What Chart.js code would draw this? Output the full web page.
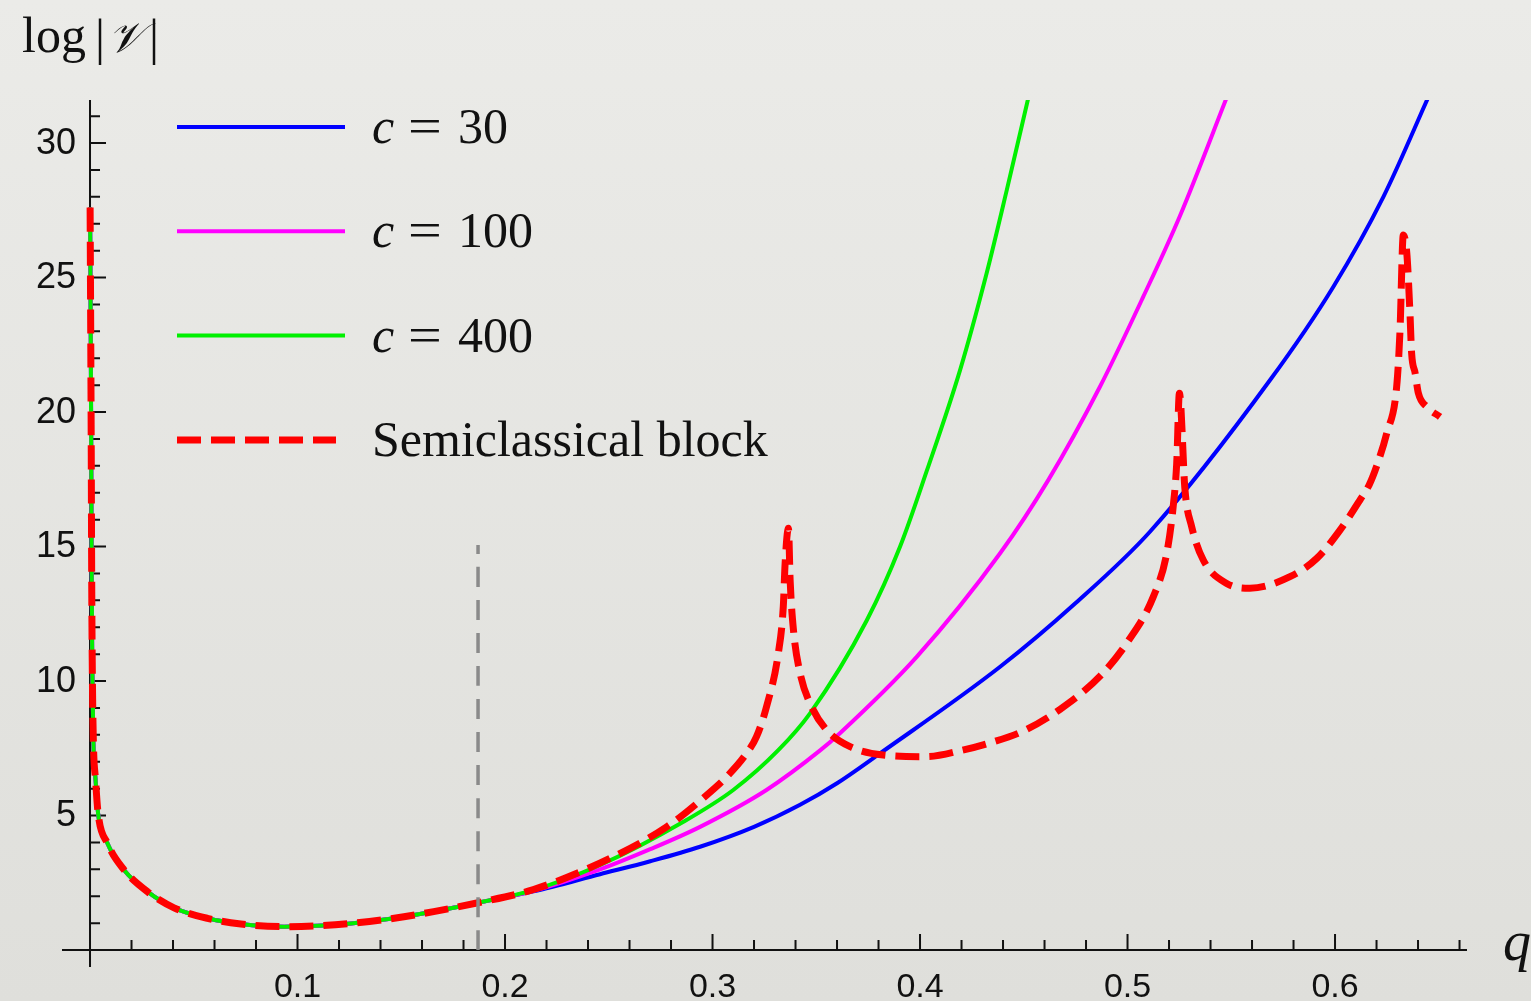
<!DOCTYPE html>
<html>
<head>
<meta charset="utf-8">
<script src="https://cdn.jsdelivr.net/npm/chart.js@4.4.0/dist/chart.umd.min.js"></script>
<style>
body { margin: 0; background: #e4e4e0; }
#wrap { width: 1531px; height: 1001px; }
</style>
</head>
<body>
<div id="wrap"><canvas id="myChart" width="1531" height="1001"></canvas></div>
<script>
// debut commun des 4 courbes (q -> log|V|)
var startQ = [0.00005, 0.0004, 0.0006, 0.0008, 0.0011, 0.0016, 0.0027, 0.0039, 0.0084, 0.0164, 0.0277, 0.0405, 0.0566, 0.0727, 0.0936, 0.1096, 0.1257, 0.1466, 0.1656, 0.187];
var startV = [27.6, 22, 18.5, 14, 10.5, 7.8, 6.3, 5.08, 3.97, 2.98, 2.17, 1.57, 1.18, 0.97, 0.87, 0.90, 0.99, 1.18, 1.43, 1.76];

// c = 30
var blueQ = [0.2137, 0.2458, 0.27, 0.294, 0.32, 0.3422, 0.36, 0.3807, 0.4386, 0.475, 0.5108, 0.5687, 0.5992, 0.6233, 0.6458];
var blueV = [2.18, 2.82, 3.3, 3.84, 4.58, 5.4, 6.2, 7.31, 10.53, 12.9, 15.55, 21.19, 24.66, 28.0, 31.85];

// c = 100
var magentaQ = [0.2137, 0.2458, 0.27, 0.294, 0.326, 0.352, 0.3614, 0.3984, 0.4386, 0.4618, 0.4867, 0.5076, 0.5253, 0.5486];
var magentaV = [2.2, 3.0, 3.75, 4.58, 5.95, 7.43, 8.06, 10.9, 14.75, 17.47, 20.94, 24.29, 27.3, 31.85];

// c = 400
var greenQ = [0.2137, 0.2458, 0.286, 0.31, 0.3317, 0.347, 0.3743, 0.3904, 0.4032, 0.4193, 0.4321, 0.4418, 0.4527];
var greenV = [2.23, 3.16, 4.77, 5.95, 7.43, 8.8, 12.25, 15.0, 17.8, 21.56, 25.16, 28.25, 31.85];

// bloc semi-classique
var redQ = [0.2137, 0.2506, 0.2779, 0.2972, 0.3068, 0.3164, 0.3212, 0.326, 0.3317, 0.3341, 0.335, 0.3366, 0.3374, 0.339, 0.3422, 0.347, 0.355, 0.3663, 0.3823, 0.4032, 0.42, 0.4337, 0.45, 0.4675, 0.487, 0.5, 0.5124, 0.5189, 0.522, 0.5237, 0.525, 0.5277, 0.5309, 0.5365, 0.5478, 0.559, 0.5783, 0.5912, 0.6024, 0.612, 0.6165, 0.6201, 0.6249, 0.6297, 0.6313, 0.6329, 0.6346, 0.6361, 0.6369, 0.6386, 0.6402, 0.6442, 0.6506];
var redV = [2.25, 3.41, 4.58, 5.76, 6.44, 7.31, 7.93, 9.04, 11.03, 12.76, 14.4, 15.68, 13.75, 11.9, 10.29, 9.17, 8.18, 7.56, 7.25, 7.19, 7.42, 7.7, 8.15, 8.95, 10.2, 11.45, 13.13, 14.75, 16.48, 18.09, 20.7, 17.1, 15.74, 14.5, 13.63, 13.45, 13.88, 14.56, 15.61, 16.73, 17.3, 18.0, 19.21, 20.94, 23.0, 26.58, 25.9, 23.7, 22.2, 21.45, 20.69, 20.2, 19.82];

// ligne verticale grise
var markQ = [0.187, 0.187];
var markV = [0, 15.06];

// graduations
var xTickValues = [0.1, 0.2, 0.3, 0.4, 0.5, 0.6];
var xTickLabels = ['0.1', '0.2', '0.3', '0.4', '0.5', '0.6'];
var yTickValues = [5, 10, 15, 20, 25, 30];
var yTickLabels = ['5', '10', '15', '20', '25', '30'];

function points(qs, vs) {
    return qs.map(function(q, i) { return {x: q, y: vs[i]}; });
}

var sans = '"Liberation Sans", Arial, sans-serif';
var serif = '"Liberation Serif", "Times New Roman", serif';

// fond + axes + textes
var axesPlugin = {
    id: 'axes',
    beforeDraw: function(chart) {
        var c = chart.ctx;
        var g = c.createLinearGradient(0, 0, 0, chart.height);
        g.addColorStop(0, '#ebebe8');
        g.addColorStop(1, '#dfdfdb');
        c.save();
        c.fillStyle = g;
        c.fillRect(0, 0, chart.width, chart.height);
        c.restore();
    },
    beforeDatasetsDraw: function(chart) {
        var c = chart.ctx;
        var xs = chart.scales.x, ys = chart.scales.y, area = chart.chartArea;
        var x0 = xs.getPixelForValue(0), y0 = ys.getPixelForValue(0);
        c.save();
        c.strokeStyle = '#111';
        c.lineWidth = 2;
        c.beginPath();
        c.moveTo(area.left, y0); c.lineTo(area.right, y0);
        c.moveTo(x0, area.top); c.lineTo(x0, area.bottom);
        // petites graduations x tous les 0.02
        for (var i = 1; i <= 33; i++) {
            var px = xs.getPixelForValue(i / 50);
            c.moveTo(px, y0);
            c.lineTo(px, y0 - (i % 5 == 0 ? 16 : 10));
        }
        // graduations y tous les 1
        for (var j = 1; j <= 31; j++) {
            var py = ys.getPixelForValue(j);
            c.moveTo(x0, py);
            c.lineTo(x0 + (j % 5 == 0 ? 16 : 10), py);
        }
        c.stroke();

        c.fillStyle = '#111';
        c.font = '34px ' + sans;
        c.textAlign = 'center';
        c.textBaseline = 'alphabetic';
        xTickValues.forEach(function(v, k) {
            c.fillText(xTickLabels[k], xs.getPixelForValue(v), 997);
        });
        c.font = '36px ' + sans;
        c.textAlign = 'right';
        c.textBaseline = 'middle';
        yTickValues.forEach(function(v, k) {
            c.fillText(yTickLabels[k], 76, ys.getPixelForValue(v) + 1);
        });

        // titres des axes
        c.textAlign = 'left';
        c.textBaseline = 'alphabetic';
        c.font = '50px ' + serif;
        c.fillText('log', 22, 52);
        c.fillText('|', 95, 54);
        c.font = 'italic 42px ' + serif;
        c.fillText('\uD835\uDCB1', 108, 52);
        var vw = c.measureText('\uD835\uDCB1').width;
        c.font = '50px ' + serif;
        c.fillText('|', Math.max(146, 110 + vw + 4), 54);
        c.font = 'italic 56px ' + serif;
        c.fillText('q', 1503, 960);

        // legende
        var rows = [0, 1, 2, 3];
        rows.forEach(function(r) {
            var ds = chart.data.datasets[r];
            var ly = 127 + r * 104.3;
            c.strokeStyle = ds.borderColor;
            c.lineWidth = ds.borderWidth;
            c.setLineDash(ds.borderDash || []);
            c.beginPath();
            c.moveTo(177, ly);
            c.lineTo(r == 3 ? 336 : 345, ly);
            c.stroke();
            c.setLineDash([]);
            c.fillStyle = '#111';
            var base = ly + 16;
            if (ds.label.indexOf('c = ') == 0) {
                c.font = 'italic 50px ' + serif;
                c.fillText('c', 372, base);
                c.font = '50px ' + serif;
                c.save();
                c.translate(408, base);
                c.scale(1.2, 1);
                c.fillText('=', 0, 0);
                c.restore();
                c.fillText(ds.label.substring(4), 458, base);
            } else {
                c.font = '50px ' + serif;
                c.fillText(ds.label, 372, base);
            }
        });
        c.restore();
    }
};

var ctx = document.getElementById('myChart').getContext('2d');
var myChart = new Chart(ctx, {
    type: 'line',
    data: {
        datasets: [{
            label: 'c = 30',
            data: points(startQ.concat(blueQ), startV.concat(blueV)),
            borderColor: '#0000ff',
            borderWidth: 4,
            order: 4
        }, {
            label: 'c = 100',
            data: points(startQ.concat(magentaQ), startV.concat(magentaV)),
            borderColor: '#ff00ff',
            borderWidth: 4,
            order: 3
        }, {
            label: 'c = 400',
            data: points(startQ.concat(greenQ), startV.concat(greenV)),
            borderColor: '#00f000',
            borderWidth: 4,
            order: 2
        }, {
            label: 'Semiclassical block',
            data: points(startQ.concat(redQ), startV.concat(redV)),
            borderColor: '#ff0000',
            borderWidth: 7,
            borderDash: [24, 10],
            order: 1
        }, {
            label: 'q*',
            data: points(markQ, markV),
            borderColor: '#8a8a8a',
            borderWidth: 3.5,
            borderDash: [20, 13],
            order: 0
        }]
    },
    options: {
        responsive: false,
        animation: false,
        layout: { padding: { left: 62, top: 100, right: 64, bottom: 34 } },
        datasets: { line: { pointRadius: 0, fill: false, cubicInterpolationMode: 'monotone' } },
        scales: {
            x: { type: 'linear', min: -0.0135, max: 0.6636, display: false },
            y: { type: 'linear', min: -0.63, max: 31.6, display: false }
        },
        plugins: {
            legend: { display: false },
            tooltip: { enabled: false }
        }
    },
    plugins: [axesPlugin]
});
</script>
</body>
</html>
